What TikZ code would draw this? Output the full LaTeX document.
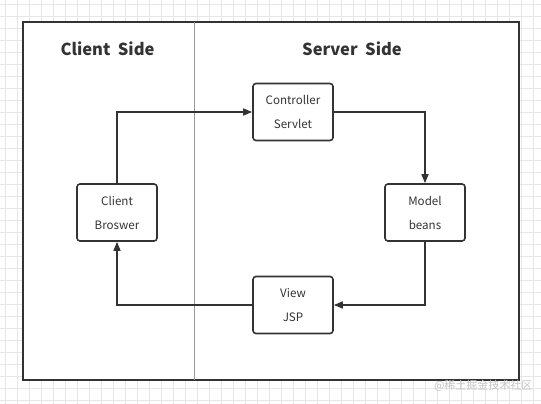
\documentclass[tikz,border=0pt]{standalone}
\usepackage{fontspec}
\setmainfont{Noto Sans CJK SC}
\usetikzlibrary{arrows.meta}
\definecolor{ink}{HTML}{333333}
\definecolor{gridc}{HTML}{E6E6E6}
\tikzset{
  box/.style={draw=ink, line width=1.6pt, rounded corners=3pt, minimum width=80pt, minimum height=57pt, inner sep=0pt, align=center, font=\fontsize{11.6}{24}\selectfont, text=ink},
  flow/.style={draw=ink, line width=1.5pt, -{Triangle[length=9pt,width=7pt]}},
  title/.style={font=\fontsize{16.5}{20}\selectfont\bfseries, text=ink}
}
\begin{document}
\begin{tikzpicture}[x=1pt,y=-1pt]
\useasboundingbox (0,0) rectangle (541,404);
\fill[white] (0,0) rectangle (541,404);
\foreach \i in {0,...,45} {\draw[gridc, line width=0.6pt] (\i*12+5,0) -- (\i*12+5,404);}
\foreach \j in {0,...,34} {\draw[gridc, line width=0.6pt] (0,\j*12+4) -- (541,\j*12+4);}
\node (frame) [draw=ink, fill=white, line width=1.6pt, minimum width=496pt, minimum height=358pt, inner sep=0pt] at (271,201) {};
\draw[gray!80, line width=0.7pt] (194.5,22) -- (194.5,380);
\node (ct) [title] at (107.5,49) {Client\ \ Side};
\node (st) [title] at (352,49) {Server\ \ Side};
\node (ctrl) [box] at (293,112) {Controller\\Servlet};
\node (model) [box] at (425,212.5) {Model\\beans};
\node (client) [box] at (117,212.5) {Client\\Broswer};
\node (view) [box] at (293,305) {View\\JSP};
\draw[flow] (client.north) |- (ctrl.west);
\draw[flow] (ctrl.east) -| (model.north);
\draw[flow] (model.south) |- (view.east);
\draw[flow] (view.west) -| (client.south);
\node (wm) [text=gray!45, font=\fontsize{11}{12}\selectfont, anchor=east] at (536,386) {@稀土掘金技术社区};
\end{tikzpicture}
\end{document}
